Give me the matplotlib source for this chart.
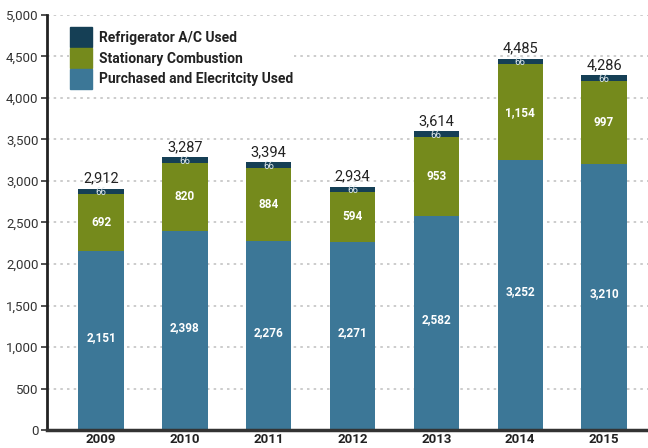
import numpy as np
import matplotlib
matplotlib.use("Agg")
import matplotlib.pyplot as plt
from matplotlib.patches import Patch

plt.rcParams['font.family'] = ['Roboto', 'DejaVu Sans']

years = ['2009', '2010', '2011', '2012', '2013', '2014', '2015']
purchased = [2151, 2398, 2276, 2271, 2582, 3252, 3210]
stationary = [692, 820, 884, 594, 953, 1154, 997]
refrigerator = [66, 66, 66, 66, 66, 66, 66]
totals = ['2,912', '3,287', '3,394', '2,934', '3,614', '4,485', '4,286']

c_blue = '#3c7797'
c_green = '#758a1c'
c_dark = '#153f55'

fig = plt.figure(figsize=(6.48, 4.48), dpi=100)
ax = fig.add_axes([47/648, 18/448, 601/648, 415/448])

x = np.arange(len(years))
w = 0.54
p = np.array(purchased)
s = np.array(stationary)
r = np.array(refrigerator)

ax.bar(x, p, w, color=c_blue, zorder=2)
ax.bar(x, s, w, bottom=p, color=c_green, zorder=2)
ax.bar(x, r, w, bottom=p + s, color=c_dark, zorder=2)

for i in range(len(years)):
    ax.text(x[i], p[i] / 2 + 40, f"{p[i]:,}", ha='center', va='center', color='white',
            fontsize=8.5, fontweight='bold', zorder=3)
    ax.text(x[i], p[i] + s[i] / 2, f"{s[i]:,}", ha='center', va='center', color='white',
            fontsize=8.5, fontweight='bold', zorder=3)
    ax.text(x[i], p[i] + s[i] + r[i] / 2 - 10, f"{r[i]}", ha='center', va='center', color='#dde6ea',
            fontsize=7, zorder=3)
    ax.text(x[i], p[i] + s[i] + r[i] + 40, totals[i], ha='center', va='bottom', color='#222222',
            fontsize=10.5, zorder=3)

ax.set_xlim(-0.645, 6.525)
ax.set_ylim(0, 5000)
ax.set_yticks(np.arange(0, 5001, 500))
ax.set_yticklabels([f"{v:,}" for v in range(0, 5001, 500)], fontsize=9.5, color='#333333')
ax.set_xticks(x)
ax.set_xticklabels(years, fontsize=9.5, fontweight='bold', color='#222222')
ax.tick_params(axis='x', length=0, pad=2)
ax.tick_params(axis='y', length=4, width=1.2, color='#333333', pad=2)

ax.grid(axis='y', color='#c4c4c4', linestyle=(0, (1.5, 2.5)), linewidth=1.2, zorder=0)
for sp in ['top', 'right']:
    ax.spines[sp].set_visible(False)
ax.spines['left'].set_linewidth(2)
ax.spines['left'].set_color('#222222')
ax.spines['bottom'].set_linewidth(2.5)
ax.spines['bottom'].set_color('#333333')

handles = [Patch(color=c_dark, label='Refrigerator A/C Used'),
           Patch(color=c_green, label='Stationary Combustion'),
           Patch(color=c_blue, label='Purchased and Elecritcity Used')]
leg = ax.legend(handles=handles, loc='upper left', bbox_to_anchor=(0.025, 0.99), frameon=True,
                facecolor='white', edgecolor='none', framealpha=1,
                prop={'size': 10, 'weight': 'bold'}, handlelength=1.55, handleheight=1.8,
                handletextpad=0.5, labelspacing=0.08, borderpad=0.1)
for t in leg.get_texts():
    t.set_color('#222222')

fig.savefig('out.png', dpi=100)
